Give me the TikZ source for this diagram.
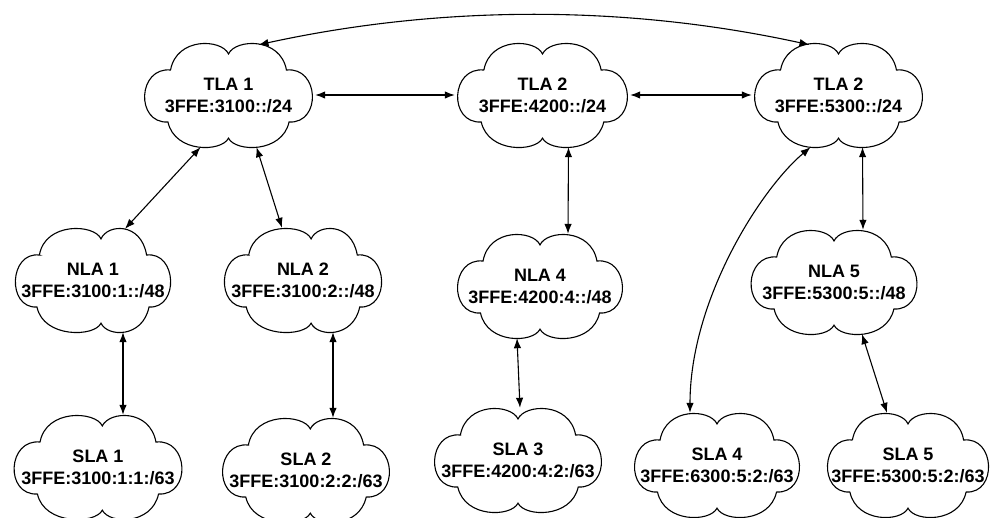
\documentclass[tikz,border=0pt]{standalone}
\usepackage{fontspec}
\setmainfont{Liberation Sans}
\usetikzlibrary{arrows.meta,calc}
\tikzset{
  cloudline/.style={draw=black, line width=1.1pt, fill=white},
  cloudtext/.style={font=\bfseries\fontsize{18}{22}\selectfont, align=center, inner sep=0pt, text=black},
  link/.style={line width=1.1pt, {Latex[length=10pt,width=7.5pt]}-{Latex[length=10pt,width=7.5pt]}},
}
% name, x, y, half width, half height, notch offset, text
\newcommand{\netcloud}[7]{%
  \begin{scope}[shift={(#2,#3)}, xscale=#4, yscale=-#5]
    \draw[cloudline] (-0.67,0.48)
      .. controls (-0.60,1.12) and ({#6-0.08},1.08) .. (#6,0.79)
      .. controls ({#6+0.08},1.08) and (0.60,1.12) .. (0.67,0.48)
      .. controls (1.05,0.55) and (1.08,-0.55) .. (0.70,-0.52)
      .. controls (0.62,-1.12) and ({#6+0.08},-1.10) .. (#6,-0.83)
      .. controls ({#6-0.08},-1.10) and (-0.62,-1.12) .. (-0.70,-0.52)
      .. controls (-1.08,-0.55) and (-1.05,0.55) .. cycle;
  \end{scope}
  \node[cloudtext, minimum width={2*#4pt}, minimum height={2*#5pt}] (#1) at (#2,#3) {#7};
}
\begin{document}
\begin{tikzpicture}[x=1pt, y=-1pt]
  \useasboundingbox (0,0) rectangle (992,517);
  \fill[white] (0,0) rectangle (992,517);
  \clip (0,0) rectangle (992,517);

  % top level
  \netcloud{tla1}{228.5}{95}{86.5}{52}{0}{TLA 1\\3FFE:3100::/24}
  \netcloud{tla2}{542.5}{95}{87.5}{52}{0}{TLA 2\\3FFE:4200::/24}
  \netcloud{tla3}{838.5}{95}{86.5}{52}{0}{TLA 2\\3FFE:5300::/24}
  % next level
  \netcloud{nla1}{93}{280}{80}{52}{0.1}{NLA 1\\3FFE:3100:1::/48}
  \netcloud{nla2}{303}{280}{81}{52}{0.1}{NLA 2\\3FFE:3100:2::/48}
  \netcloud{nla4}{540}{286}{85}{52}{0}{NLA 4\\3FFE:4200:4::/48}
  \netcloud{nla5}{834}{282}{85.5}{52}{0}{NLA 5\\3FFE:5300:5::/48}
  % site level
  \netcloud{sla1}{98}{467}{86.5}{52}{0.05}{SLA 1\\3FFE:3100:1:1:/63}
  \netcloud{sla2}{306}{470}{86}{52}{0.05}{SLA 2\\3FFE:3100:2:2:/63}
  \netcloud{sla3}{518}{460}{86}{52}{0}{SLA 3\\3FFE:4200:4:2:/63}
  \netcloud{sla4}{717}{465}{85}{52}{0}{SLA 4\\3FFE:6300:5:2:/63}
  \netcloud{sla5}{908}{465}{83}{52}{0}{SLA 5\\3FFE:5300:5:2:/63}

  % connectors
  \draw[link] (tla1.east) -- (tla2.west);
  \draw[link] (tla2.east) -- (tla3.west);
  \draw[link] ($(tla1.north)+(30,2)$) .. controls +(183,-40) and +(-183,-40) .. ($(tla3.north)+(-29,2)$);
  \draw[link] ($(tla1.south)+(-28,0)$) -- ($(nla1.north)+(32,1)$);
  \draw[link] ($(tla1.south)+(28,0)$) -- ($(nla2.north)+(-21,0)$);
  \draw[link] ($(tla2.south)+(26,0)$) -- ($(nla4.north)+(28,0)$);
  \draw[link] ($(tla3.south)+(24,0)$) -- ($(nla5.north)+(29,0)$);
  \draw[link] ($(tla3.south)+(-28,0)$) .. controls +(-50,42) and +(0,-113) .. ($(sla4.north)+(-27,0)$);
  \draw[link] ($(nla1.south)+(30,0)$) -- ($(sla1.north)+(25,0)$);
  \draw[link] ($(nla2.south)+(30,0)$) -- ($(sla2.north)+(27,0)$);
  \draw[link] ($(nla4.south)+(-23,0)$) -- ($(sla3.north)+(2,0)$);
  \draw[link] ($(nla5.south)+(28,0)$) -- ($(sla5.north)+(-21,0)$);
\end{tikzpicture}
\end{document}
